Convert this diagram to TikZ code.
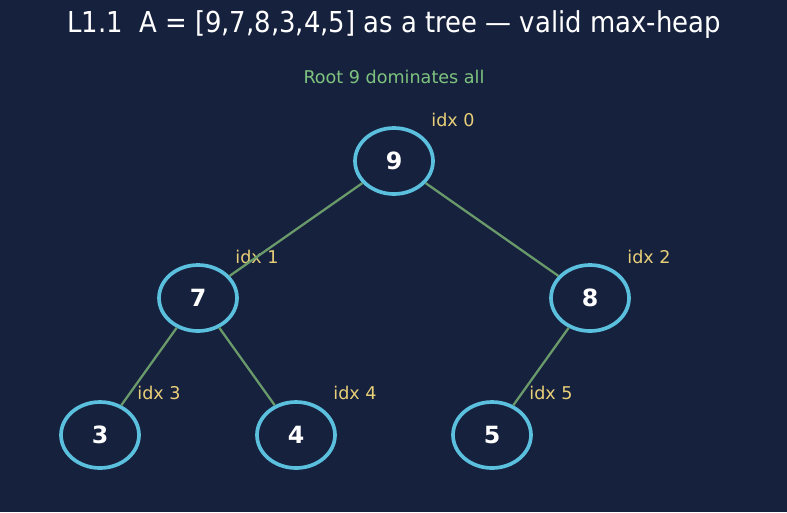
\documentclass[tikz,border=0pt]{standalone}
\usepackage{fontspec}
\setmainfont{DejaVu Sans}
\newfontfamily\titlefont{DejaVu Sans Condensed}
\usetikzlibrary{shapes.geometric}
\definecolor{bgnavy}{HTML}{16213E}
\definecolor{ringcyan}{HTML}{5BC0DE}
\definecolor{edgegreen}{HTML}{6A9A6A}
\definecolor{subgreen}{HTML}{7EC47E}
\definecolor{idxgold}{HTML}{E8CF78}

\begin{document}
\begin{tikzpicture}[
  x=0.02cm, y=-0.02cm,
  every node/.style={font=\fontsize{10}{12}\selectfont},
  heapnode/.style={ellipse, draw=ringcyan, line width=2.1pt, fill=bgnavy,
                   inner sep=0pt, minimum width=1.56cm, minimum height=1.32cm,
                   text=white, font=\fontsize{13.5}{15}\selectfont\bfseries},
  idxlab/.style={text=idxgold, font=\fontsize{10}{12}\selectfont},
  link/.style={draw=edgegreen, line width=1.3pt}
]
  \fill[bgnavy] (0,0) rectangle (787,512);
  \useasboundingbox (0,0) rectangle (787,512);

  \node[text=white, font=\titlefont\fontsize{16.4}{19}\selectfont] (title) at (394,25)
    {L1.1\ \ A = [9,7,8,3,4,5] as a tree — valid max-heap};
  \node[text=subgreen] (sub) at (394,77) {Root 9 dominates all};

  % heap in level order
  \node[heapnode] (n0) at (394,161) {9};
  \node[heapnode] (n1) at (198,298) {7};
  \node[heapnode] (n2) at (590,298) {8};
  \node[heapnode] (n3) at (100,435) {3};
  \node[heapnode] (n4) at (296,435) {4};
  \node[heapnode] (n5) at (492,435) {5};

  \node[idxlab] (i0) at (453,120) {idx 0};
  \node[idxlab] (i1) at (257,257) {idx 1};
  \node[idxlab] (i2) at (649,257) {idx 2};
  \node[idxlab] (i3) at (159,393) {idx 3};
  \node[idxlab] (i4) at (355,393) {idx 4};
  \node[idxlab] (i5) at (551,393) {idx 5};

  \draw[link] (n0) -- (n1);
  \draw[link] (n0) -- (n2);
  \draw[link] (n1) -- (n3);
  \draw[link] (n1) -- (n4);
  \draw[link] (n2) -- (n5);
\end{tikzpicture}
\end{document}
